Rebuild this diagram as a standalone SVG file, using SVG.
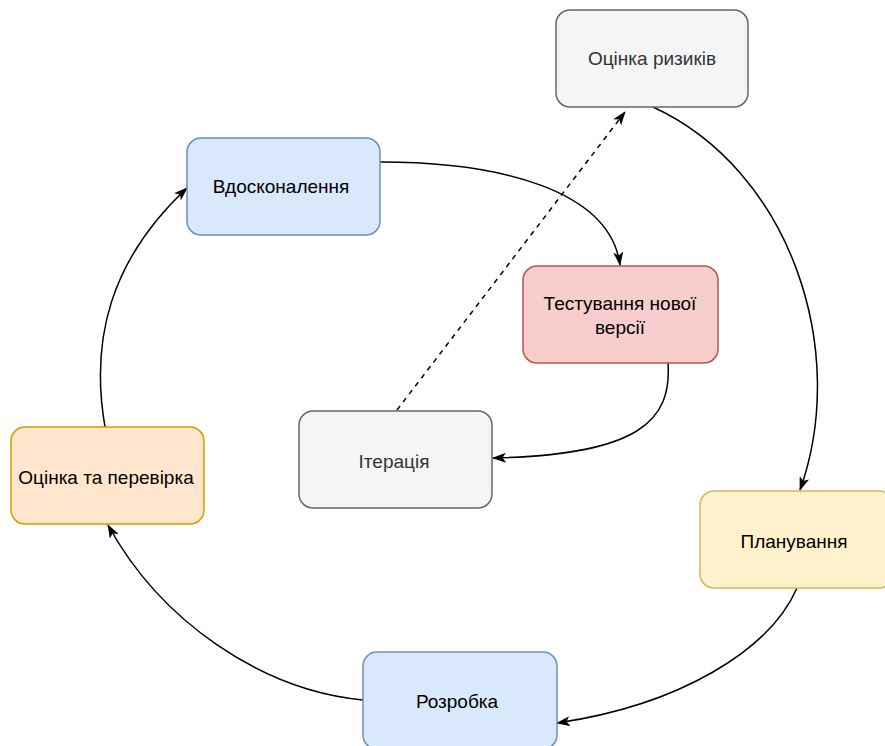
<svg xmlns="http://www.w3.org/2000/svg" width="885" height="746" viewBox="0 0 885 746">
  <style>
    .node rect { stroke-width: 1.5; }
    .node text { font-family: "Liberation Sans", Arial, Helvetica, sans-serif; font-size: 19px; text-anchor: middle; fill: #000000; }
    .grey rect { fill: #f5f5f5; stroke: #666666; }
    .grey text { fill: #333333; }
    .blue rect { fill: #dae8fc; stroke: #6c8ebf; }
    .red rect { fill: #f8cecc; stroke: #b85450; }
    .orange rect { fill: #ffe6cc; stroke: #d79b00; }
    .yellow rect { fill: #fff2cc; stroke: #d6b656; }
    .edges path { fill: none; stroke: #000000; stroke-width: 1.5; }
    .edges .dashed { stroke-dasharray: 5 5; }
  </style>
  <defs>
    <marker id="arrow" viewBox="0 0 14 10" refX="13" refY="5" markerWidth="14" markerHeight="10" markerUnits="userSpaceOnUse" orient="auto">
      <path d="M0,0 L14,5 L0,10 L3.5,5 Z" fill="#000000"/>
    </marker>
  </defs>

  <rect width="885" height="746" fill="#ffffff"/>

  <g class="edges">
    <path d="M653,107 C790,170 850,350 800,490" marker-end="url(#arrow)"/>
    <path d="M797,588 C770,650 680,705 557,723" marker-end="url(#arrow)"/>
    <path d="M363,700 C260,690 160,620 108,525" marker-end="url(#arrow)"/>
    <path d="M105,427 C90,340 110,260 187,188" marker-end="url(#arrow)"/>
    <path d="M380,162 C500,162 610,190 620,265" marker-end="url(#arrow)"/>
    <path d="M668,363 C672,420 640,455 493,458" marker-end="url(#arrow)"/>
    <path class="dashed" d="M397,410 L625,112" marker-end="url(#arrow)"/>
  </g>

  <g id="risk" class="node grey">
    <rect x="556" y="10" width="192" height="97" rx="14"/>
    <text x="652" y="65">Оцінка ризиків</text>
  </g>
  <g id="improve" class="node blue">
    <rect x="187" y="138" width="193" height="97" rx="14"/>
    <text x="281" y="193">Вдосконалення</text>
  </g>
  <g id="test" class="node red">
    <rect x="523" y="266" width="195" height="97" rx="14"/>
    <text x="620" y="310">Тестування нової</text>
    <text x="620" y="334">версії</text>
  </g>
  <g id="iteration" class="node grey">
    <rect x="299" y="411" width="193" height="97" rx="14"/>
    <text x="394" y="468">Ітерація</text>
  </g>
  <g id="review" class="node orange">
    <rect x="11" y="427" width="193" height="97" rx="14"/>
    <text x="106" y="484">Оцінка та перевірка</text>
  </g>
  <g id="planning" class="node yellow">
    <rect x="700" y="491" width="193" height="97" rx="14"/>
    <text x="794" y="548">Планування</text>
  </g>
  <g id="development" class="node blue">
    <rect x="363" y="652" width="194" height="97" rx="14"/>
    <text x="457" y="708">Розробка</text>
  </g>
</svg>
